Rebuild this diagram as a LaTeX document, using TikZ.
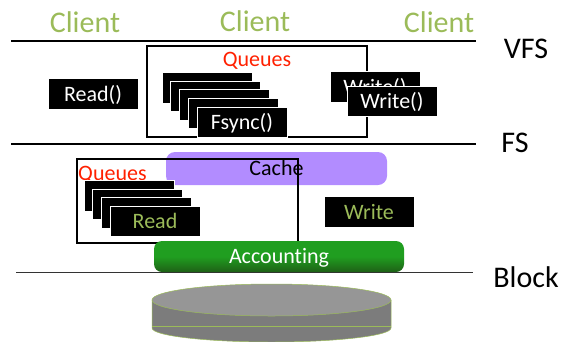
\documentclass[tikz,border=0pt]{standalone}
\usepackage{fontspec}
\setmainfont{Carlito}[Ligatures=NoCommon]
\usetikzlibrary{positioning}
\definecolor{clientgreen}{RGB}{155,187,89}
\definecolor{queuered}{RGB}{255,32,0}
\definecolor{cachepurple}{RGB}{178,140,255}
\definecolor{acctop}{RGB}{32,158,32}
\definecolor{accbot}{RGB}{30,96,22}
\definecolor{disktop}{RGB}{150,150,150}
\definecolor{diskside}{RGB}{124,124,124}

\begin{document}
\begin{tikzpicture}[x=1pt, y=-1pt,
  big/.style={font=\fontsize{30}{36}\selectfont, anchor=base},
  txt/.style={font=\fontsize{22}{26}\selectfont},
  layer/.style={line width=2pt},
  qbox/.style={draw=black, line width=1.1pt, inner sep=0pt},
  call/.style={fill=black, draw=white, line width=0.8pt, minimum width=90pt, minimum height=30.5pt,
    inner sep=0pt, txt, text height=16pt, text depth=2pt},
  pill/.style={rounded corners=9pt, inner sep=0pt, txt, text height=16pt, text depth=2pt},
  disk/.style={draw=clientgreen, line width=0.5pt}]
\useasboundingbox (0,0) rectangle (565,341);
% layers
\coordinate (vfsL) at (11,41);  \coordinate (vfsR) at (476,41);
\coordinate (fsL)  at (11,144); \coordinate (fsR)  at (476,144);
\draw[layer] (vfsL) -- (vfsR);
\draw[layer] (fsL) -- (fsR);
\node[big, text=clientgreen] (c1) at (85,32)  {Client};
\node[big, text=clientgreen] (c2) at (255,31) {Client};
\node[big, text=clientgreen] (c3) at (439,32) {Client};
\node[big] (vfs)   at (526,58)  {VFS};
\node[big] (fs)    at (515,152) {FS};
\node[big] (block) at (526,287) {Block};
% VFS: queued calls
\node[qbox, minimum width=220pt, minimum height=91pt] (vq) at (257,91.5) {};
\node[txt, text=queuered, anchor=base] (vqt) at (257,66) {Queues};
\node[call, text=white] (rd) at (93,94) {Read()};
\foreach \i in {0,...,3}
  \node[call] (vs\i) at ({207+8.75*\i},{88+8.5*\i}) {};
\node[call, text=white] (fsync) at (242,122.5) {Fsync()};
\node[call, text=white] (wr1) at (375,87) {Write()};
\node[call, text=white] (wr2) at (392,101.5) {Write()};
% FS: cache and queued reads
\node[pill, fill=cachepurple, minimum width=221pt, minimum height=33pt] (cache) at (276.5,168.5) {Cache};
\node[qbox, minimum width=221pt, minimum height=84pt] (fq) at (187.5,201) {};
\node[txt, text=queuered, anchor=base west, inner sep=0pt] (fqt) at (78,180) {Queues};
\foreach \i in {0,...,2}
  \node[call] (fr\i) at ({129+8.67*\i},{196+8.33*\i}) {};
\node[call, text=clientgreen] (rdq) at (155,221.5) {Read};
\node[call, text=clientgreen] (wrq) at (369,212) {Write};
% block layer
\coordinate (blkL) at (16,272); \coordinate (blkR) at (473,272);
\draw[black!80, line width=1pt] (blkL) -- (blkR);
\node[pill, rounded corners=8pt, top color=acctop, bottom color=accbot, middle color=acctop,
  text=white, minimum width=250pt, minimum height=31pt] (acc) at (279,256.5) {Accounting};
% disk
\filldraw[disk, fill=diskside] (152,300) -- (152,328)
  arc[start angle=180, end angle=360, x radius=119.5pt, y radius=14pt] -- (391,300) -- cycle;
\draw[disk] (152,326) -- (391,326);
\filldraw[disk, fill=disktop] (271.5,300) ellipse[x radius=119.5pt, y radius=16pt];
\end{tikzpicture}
\end{document}
